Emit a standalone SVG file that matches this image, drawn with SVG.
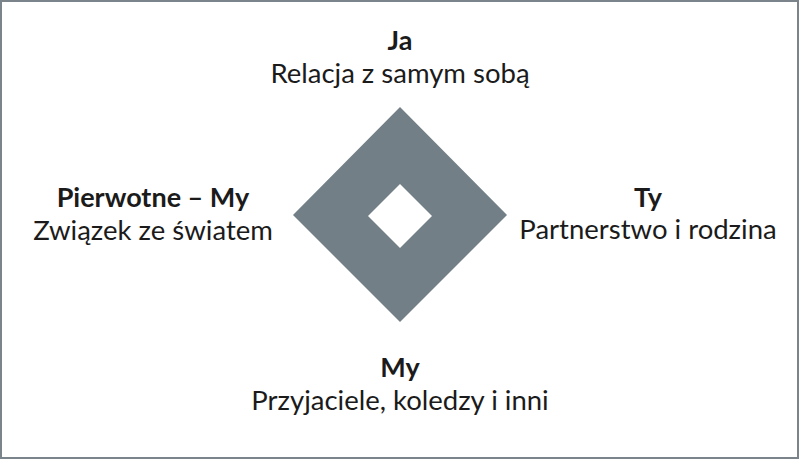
<svg xmlns="http://www.w3.org/2000/svg" width="800" height="460" viewBox="0 0 800 460">
<style>
.t{font-family:Lato,"Noto Sans","DejaVu Sans",sans-serif;font-size:27.5px;fill:#1b1b1b;text-anchor:middle}
.b{font-weight:bold;font-size:27px}
</style>
<rect x="1" y="1" width="797" height="457" fill="#ffffff" stroke="#7b848a" stroke-width="2"/>
<g id="diamond">
<path d="M400 107 L507 215 L400 322 L293 215 Z M400 184 L368 216 L400 248 L432 216 Z" fill="#737f86" fill-rule="evenodd"/>
</g>
<g id="connectors"></g>
<g id="node-ja">
<text class="t b" x="400" y="50">Ja</text>
<text class="t" x="400" y="83">Relacja z samym sobą</text>
</g>
<g id="node-pierwotne">
<text class="t b" x="153" y="207">Pierwotne – My</text>
<text class="t" x="153" y="240">Związek ze światem</text>
</g>
<g id="node-ty">
<text class="t b" x="648" y="207">Ty</text>
<text class="t" x="648" y="239">Partnerstwo i rodzina</text>
</g>
<g id="node-my">
<text class="t b" x="400" y="377">My</text>
<text class="t" x="400" y="410">Przyjaciele, koledzy i inni</text>
</g>
</svg>
